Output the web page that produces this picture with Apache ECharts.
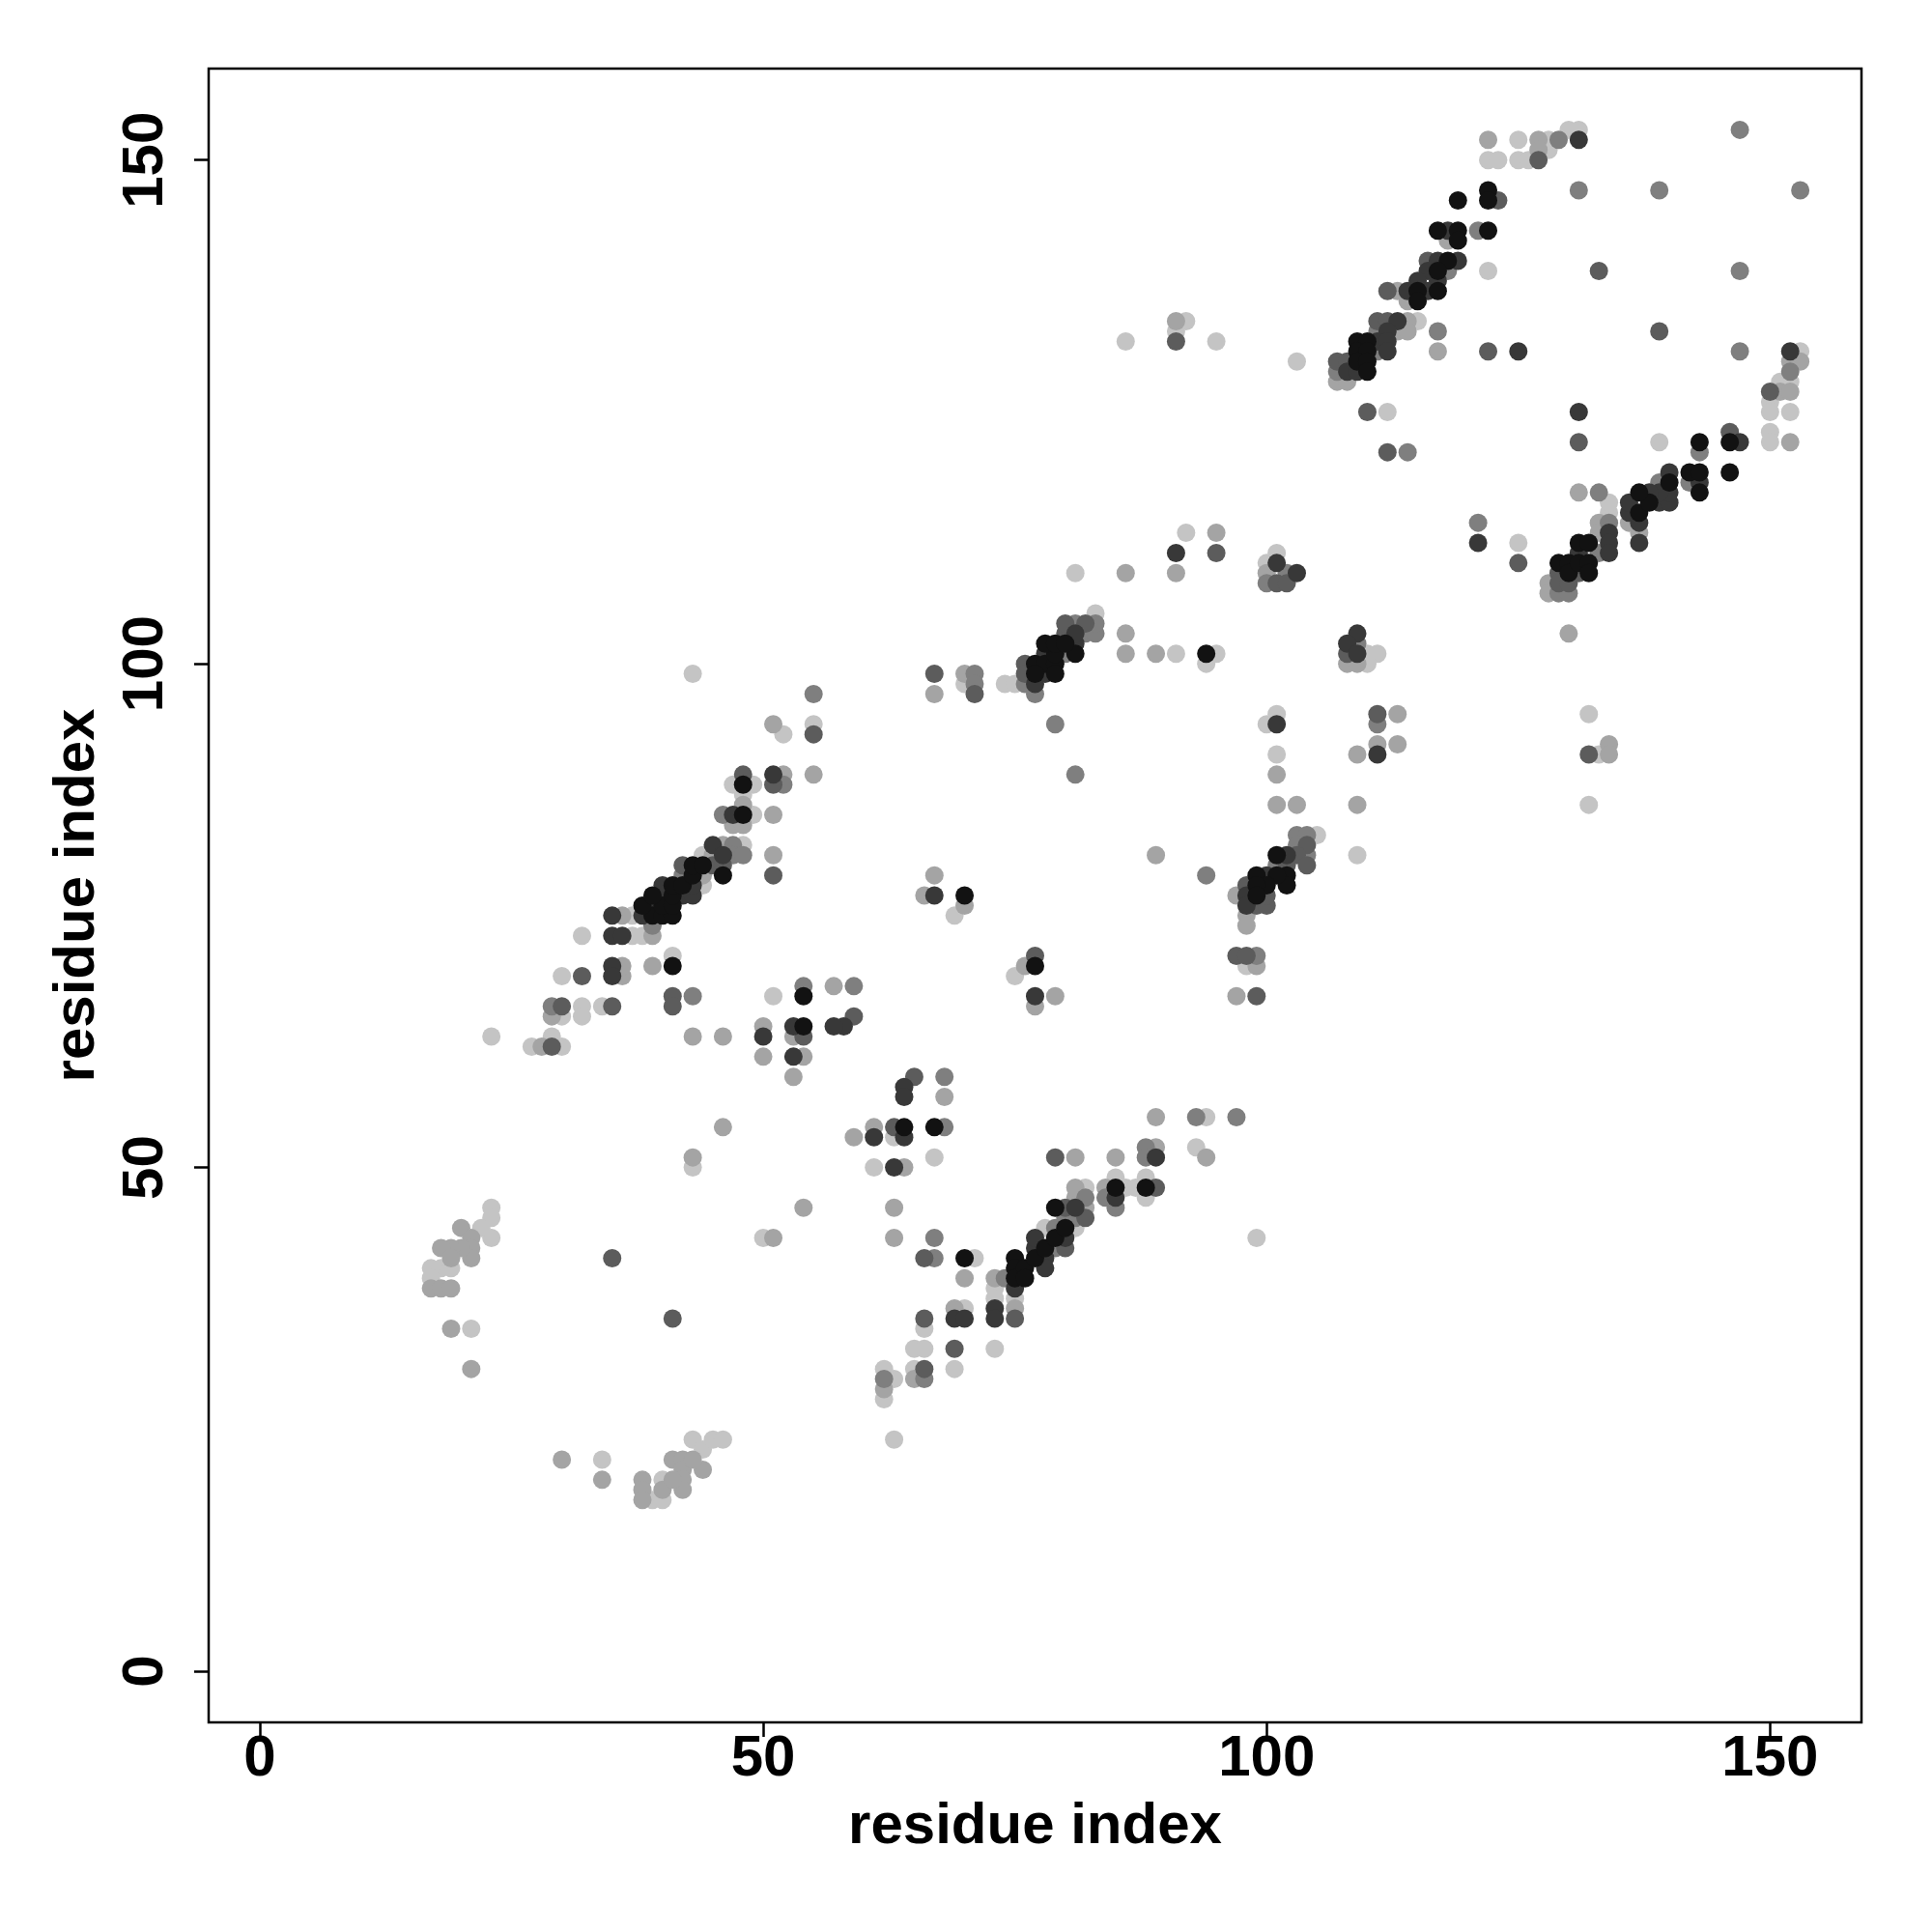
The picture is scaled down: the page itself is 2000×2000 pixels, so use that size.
<!DOCTYPE html>
<html>
<head>
<meta charset="utf-8">
<script src="https://cdn.jsdelivr.net/npm/echarts@6/dist/echarts.min.js"></script>
<style>
html,body{margin:0;padding:0;background:#fff;}
#chart{width:2000px;height:2000px;}
</style>
</head>
<body>
<div id="chart"></div>
<script>
// Tick labels
const tickValues = [0, 50, 100, 150];

// Contacts grouped by gray level (1 = black/highest, 6 = lightest)
const level1 = [
[54,67],[54,64],[41,70],[39,75],[40,75],[41,75],[38,76],[40,76],[41,76],[39,77],[41,77],[41,78],[42,78],
[43,79],[46,79],[43,80],[44,80],[48,85],[48,88],
[64,54],[67,54],[70,41],[70,77],[77,70],
[75,41],[75,40],[75,39],[76,40],[76,39],[77,41],[78,42],[79,43],[80,44],[79,46],[85,48],[88,48],
[77,100],[78,100],[79,100],[77,99],[79,99],[79,101],[81,101],[78,102],[79,102],[80,102],[94,101],
[101,81],[102,79],[102,78],[101,79],[99,79],[100,78],[99,78],[99,77],
[129,110],[130,110],[130,109],[131,112],[131,110],[132,112],[132,110],[132,109],[137,115],[138,116],
[143,122],[146,122],[146,119],[142,119],[143,119],[143,117],[140,118],[137,117],
[119,146],[122,147],[122,146],[117,143],[119,143],[119,142],[122,143],[118,140],[117,139],[115,137],[117,137],[115,136],
[109,132],[110,132],[109,131],[110,131],[109,130],[110,130],[110,129]
];
const level2 = [
[50,63],[53,64],[53,61],[35,75],[38,75],[35,73],[36,73],[35,70],[35,69],[39,76],[40,77],[42,77],[43,77],[40,78],[43,78],
[45,82],[46,81],[47,85],[51,89],
[67,77],[58,64],[57,64],[64,58],[64,57],[61,53],[64,53],[63,50],[77,67],
[75,38],[77,42],[77,43],[78,41],[78,40],[80,43],[81,46],[85,47],[89,51],[73,36],[73,35],[69,35],[70,35],
[77,98],[78,99],[78,101],[81,102],[81,103],[91,111],[101,94],[111,91],
[102,81],[100,79],[98,77],[98,76],[101,110],[103,109],[109,103],[108,102],[109,101],[121,112],
[131,111],[134,113],[134,112],[134,111],[136,115],[137,114],[137,112],[139,116],[140,116],
[147,122],[143,118],[140,119],[140,117],[139,117],[138,117],[136,116],[152,131],
[131,152],[118,143],[117,140],[119,140],[116,139],[115,138],[117,138],[114,137],[116,137],[113,134],[112,133],
[111,132],[112,132],[112,131],[108,129],[109,129],[125,131],[131,125]
];
const level3 = [
[35,41],[41,35],[29,62],[30,66],[35,66],[32,69],[41,67],[41,66],[54,63],[42,80],[45,80],[46,80],[51,79],[48,89],[51,88],[55,93],
[67,99],[71,97],[76,100],[76,99],[80,103],[80,104],[82,104],[95,111],[91,132],
[77,71],[59,65],[65,59],[63,54],[66,41],[80,42],[80,46],[82,45],[89,48],[79,51],
[75,35],[66,35],[69,32],[66,30],[97,71],[98,71],[99,67],
[104,82],[103,81],[102,80],[104,80],[98,78],[99,76],[100,76],[100,77],
[101,108],[102,108],[108,101],[111,95],[132,91],[125,110],
[129,109],[129,108],[130,108],[131,109],[146,123],[133,139],[139,133],[150,127],
[127,150],[123,146],[116,140],[112,137],[111,134],[112,134],[107,130],[108,130],[122,131],[110,125],[112,121],[131,122]
];
const level4 = [
[29,66],[39,74],[43,67],[54,68],[55,97],[52,88],[46,85],[47,82],[47,81],[48,81],[42,79],
[71,99],[71,98],[76,98],[77,97],[80,101],[82,103],[83,103],[81,104],[83,104],[79,94],[81,89],[94,79],
[59,68],[68,59],[68,54],[67,43],[67,41],[74,39],[79,44],[79,42],[80,45],[81,45],[82,47],[84,47],[85,46],[88,52],[88,51],
[93,55],[97,55],[62,29],[66,29],[99,71],
[103,83],[104,83],[103,82],[104,81],[101,80],[102,109],[100,108],[109,102],[111,94],[121,114],
[129,107],[130,107],[133,111],[134,114],[143,121],[142,118],[139,118],[133,117],
[147,153],[139,147],[153,147],[147,139],[147,131],[152,129],[131,147],
[129,152],[121,143],[118,139],[111,133],[117,133],[111,131],[107,129],[114,121]
];
const level5 = [
[20,44],[21,43],[21,42],[21,41],[20,42],[19,42],[18,42],[19,41],[17,38],[18,38],[19,38],[19,34],[21,30],
[30,21],[34,19],[38,19],[38,18],[38,17],[40,18],[41,21],[42,21],[42,20],[42,19],[42,18],[41,19],[44,20],[43,21],
[28,62],[29,65],[36,69],[36,70],[39,70],[39,73],[36,75],[43,63],[46,63],[50,64],[53,63],[50,61],[54,61],[53,59],
[46,54],[43,51],[54,46],[51,43],[51,94],[55,89],[52,89],[48,86],[51,85],[47,84],[48,84],[46,82],[45,81],[51,81],[44,79],
[67,97],[70,99],[86,103],[86,101],[89,101],[86,109],[91,109],[95,113],[89,81],[67,79],[66,77],[70,76],[91,134],
[76,70],[77,66],[79,67],[57,68],[68,57],[59,53],[61,54],[64,50],[63,46],[63,43],[70,39],[73,39],
[81,47],[82,46],[81,48],[84,48],[85,51],[89,52],[81,51],[89,55],[94,51],
[75,36],[69,36],[62,28],[65,29],[98,75],[98,74],[99,70],[97,67],[97,77],
[101,89],[101,86],[103,86],[109,86],[113,95],[111,92],[113,92],[109,91],[100,109],[108,100],[109,100],[130,103],
[128,108],[128,107],[133,114],[133,113],[136,114],[137,113],[134,92],[134,91],
[152,130],[153,130],[151,127],[152,127],[152,122],[131,117],
[122,152],[127,152],[127,151],[118,142],[113,137],[114,136],[114,134],[113,133],[114,133],[117,131],[107,128],[108,128]
];
const level6 = [
[23,46],[23,45],[23,43],[22,44],[18,40],[19,40],[17,40],[17,39],[21,34],
[34,21],[39,17],[40,17],[40,19],[43,23],[44,22],[45,23],[46,23],
[23,63],[27,62],[30,62],[29,63],[32,66],[34,66],[30,65],[32,65],[30,69],[41,71],[32,73],[37,73],[38,73],[37,75],
[51,67],[43,50],[50,43],[43,99],[52,93],[55,94],[47,88],[49,88],[48,87],[49,85],[48,82],[44,81],[44,78],
[70,98],[74,98],[75,98],[83,105],[91,101],[95,101],[94,100],[81,109],[92,113],[69,75],
[86,132],[92,134],[91,133],[95,132],
[75,69],[67,51],[61,50],[63,53],[71,41],[73,38],[78,44],[81,44],[82,48],[85,49],[86,48],[87,48],[88,49],[88,47],
[94,55],[93,52],[73,37],[75,37],[70,36],[66,34],[65,32],[66,32],[73,32],[62,30],[63,29],[62,27],[65,30],[69,30],[63,23],
[98,70],[99,43],[105,83],[109,81],[101,91],[101,95],[100,94],[100,110],[101,111],[110,101],[111,101],[110,100],[125,112],
[132,95],[133,91],[132,86],[134,115],[134,116],[139,122],
[153,131],[151,128],[152,128],[150,126],[150,125],[152,125],[150,123],[150,122],
[125,152],[128,152],[130,153],[131,153],[128,151],[122,150],[123,150],[125,150],[126,150],
[122,139],[115,134],[103,130],[112,125]
];

const levels = [level6, level5, level4, level3, level2, level1];
const colors = ['#c4c4c4', '#a4a4a4', '#7f7f7f', '#5c5c5c', '#383838', '#121212'];

const FONT = "'Liberation Sans', Arial, Helvetica, sans-serif";

const chart = echarts.init(document.getElementById('chart'), null, {renderer: 'canvas'});

function axisCommon(isY) {
  return {
    type: 'value',
    min: -5.08,
    max: 159.08,
    splitLine: {show: false},
    axisLine: {show: false, onZero: false},
    axisTick: {
      show: true,
      customValues: tickValues,
      length: 15,
      lineStyle: {color: '#000', width: 2.5}
    },
    axisLabel: {
      customValues: tickValues,
      color: '#000',
      fontSize: 60,
      fontWeight: 'bold',
      fontFamily: FONT,
      margin: isY ? 35 : 8,
      rotate: isY ? 90 : 0
    },
    name: 'residue index',
    nameLocation: 'middle',
    nameGap: isY ? 106 : 78,
    nameTextStyle: {
      color: '#000',
      fontSize: 60,
      fontWeight: 'bold',
      fontFamily: FONT
    }
  };
}

chart.setOption({
  animation: false,
  backgroundColor: '#fff',
  grid: {
    left: 216, right: 73, top: 71, bottom: 217,
    show: true,
    borderColor: '#000',
    borderWidth: 2.5,
    backgroundColor: 'transparent'
  },
  xAxis: axisCommon(false),
  yAxis: axisCommon(true),
  series: levels.map((d, i) => ({
    type: 'scatter',
    data: d,
    symbol: 'circle',
    symbolSize: 19,
    itemStyle: {color: colors[i], opacity: 1},
    emphasis: {disabled: true},
    silent: true
  }))
});
</script>
</body>
</html>
